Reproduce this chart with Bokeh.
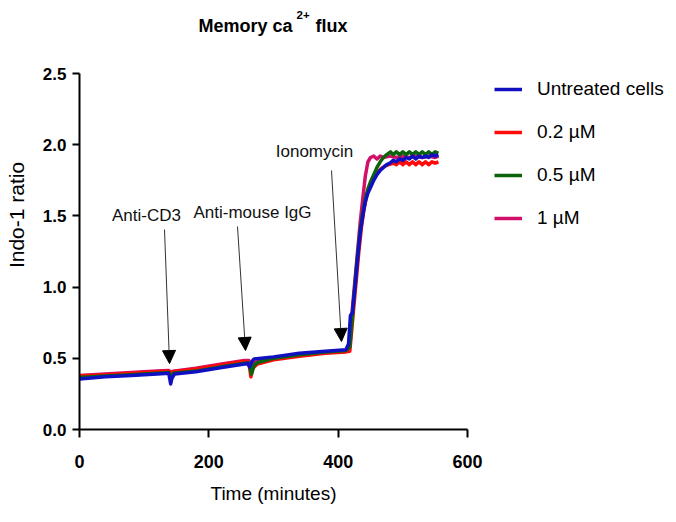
from bokeh.plotting import figure
from bokeh.models import (Range1d, FixedTicker, Label, Legend, LegendItem, Arrow,
                          NormalHead, Title)
from bokeh.embed import file_html
from bokeh.resources import INLINE

FONT = "Liberation Sans"

# ---------------- data ----------------
x_ticks = [0, 200, 400, 600]
y_ticks = [0.0, 0.5, 1.0, 1.5, 2.0, 2.5]
y_tick_labels = ["0.0", "0.5", "1.0", "1.5", "2.0", "2.5"]

series_names = ["Untreated cells", "0.2 \u00b5M", "0.5 \u00b5M", "1 \u00b5M"]
series_colors = ["#1010C0", "#FF0a0a", "#0B640B", "#D0106A"]

untreated_t = [0, 40, 80, 120, 138, 141, 143, 147, 180, 220, 255, 260, 263, 267,
               270, 300, 340, 380, 412, 416, 419, 422, 426, 430, 434, 438, 442,
               446, 450, 455, 460, 465, 470, 475, 480, 485, 490, 495, 500, 505,
               510, 515, 520, 525, 530, 535, 540, 545, 550, 555]
untreated_y = [0.355, 0.37, 0.38, 0.39, 0.395, 0.32, 0.36, 0.39, 0.405, 0.435,
               0.46, 0.465, 0.44, 0.48, 0.495, 0.51, 0.535, 0.55, 0.56, 0.60,
               0.80, 0.82, 1.00, 1.20, 1.38, 1.50, 1.60, 1.66, 1.70, 1.75, 1.79,
               1.82, 1.84, 1.86, 1.87, 1.89, 1.88, 1.90, 1.89, 1.91, 1.90, 1.92,
               1.90, 1.92, 1.91, 1.92, 1.91, 1.93, 1.92, 1.93]

low_t = [0, 40, 80, 120, 138, 141, 145, 180, 220, 255, 262, 265, 268, 275, 300,
         340, 380, 412, 418, 421, 424, 428, 432, 436, 440, 444, 448, 452, 456,
         460, 466, 472, 478, 485, 490, 495, 500, 505, 510, 515, 520, 525, 530,
         535, 540, 545, 550, 555]
low_y = [0.375, 0.385, 0.395, 0.405, 0.41, 0.39, 0.405, 0.425, 0.455, 0.48,
         0.47, 0.37, 0.43, 0.46, 0.49, 0.515, 0.535, 0.545, 0.55, 0.70, 0.85,
         1.05, 1.25, 1.42, 1.55, 1.64, 1.70, 1.75, 1.78, 1.80, 1.83, 1.85, 1.86,
         1.87, 1.86, 1.88, 1.86, 1.88, 1.86, 1.88, 1.86, 1.88, 1.86, 1.88, 1.86,
         1.88, 1.87, 1.88]

mid_t = [0, 40, 80, 120, 138, 141, 145, 180, 220, 255, 262, 266, 270, 275, 300,
         340, 380, 412, 418, 422, 426, 430, 434, 438, 442, 446, 450, 455, 460,
         465, 470, 475, 481, 485, 490, 495, 500, 505, 510, 515, 520, 525, 530,
         535, 540, 545, 550, 555]
mid_y = [0.365, 0.375, 0.385, 0.395, 0.40, 0.36, 0.395, 0.41, 0.44, 0.465,
         0.465, 0.39, 0.45, 0.47, 0.50, 0.525, 0.545, 0.555, 0.58, 0.80, 1.02,
         1.22, 1.40, 1.52, 1.62, 1.69, 1.74, 1.79, 1.84, 1.88, 1.91, 1.93, 1.95,
         1.93, 1.95, 1.93, 1.95, 1.93, 1.95, 1.93, 1.95, 1.93, 1.95, 1.93, 1.95,
         1.93, 1.95, 1.94]

high_t = [0, 40, 80, 120, 138, 141, 145, 180, 220, 255, 262, 266, 270, 300, 340,
          380, 412, 418, 422, 426, 430, 434, 438, 442, 446, 450, 455, 460, 465,
          470, 480, 490, 500, 510, 520, 530, 540, 550, 555]
high_y = [0.38, 0.39, 0.40, 0.41, 0.415, 0.40, 0.41, 0.43, 0.46, 0.485, 0.485,
          0.42, 0.47, 0.50, 0.525, 0.545, 0.555, 0.60, 0.85, 1.05, 1.25, 1.45,
          1.62, 1.78, 1.88, 1.91, 1.92, 1.90, 1.92, 1.91, 1.92, 1.91, 1.92,
          1.91, 1.92, 1.91, 1.92, 1.91, 1.92]

event_labels = ["Anti-CD3", "Anti-mouse IgG", "Ionomycin"]
event_times = [139.2, 256.7, 405.1]

# ---------------- layout ----------------
LEFT, AX_W, AX_H = 79, 388, 356        # axis box: x 0..600 over 388 px, y 0..2.5 over 356 px
TOP_SPACE = 73                          # room above the axis box for the title
RIGHT_SPACE = 676 - LEFT - AX_W         # room right of the axis box for the legend
BOTTOM = 89
ppx = AX_W / 600.0
ppy = AX_H / 2.5
FW = AX_W + RIGHT_SPACE
FH = AX_H + TOP_SPACE

p = figure(frame_width=FW, frame_height=FH, output_backend="svg",
           toolbar_location=None, title=None,
           x_range=Range1d(0, FW / ppx), y_range=Range1d(0, FH / ppy),
           min_border_left=LEFT, min_border_right=0, min_border_top=0,
           min_border_bottom=BOTTOM)
p.outline_line_color = None
p.xgrid.visible = False
p.ygrid.visible = False
p.background_fill_color = "white"
p.border_fill_color = "white"

for ax in (p.xaxis[0], p.yaxis[0]):
    ax.axis_line_width = 2
    ax.axis_line_color = "black"
    ax.major_tick_line_width = 2
    ax.major_tick_line_color = "black"
    ax.major_tick_in = 0
    ax.minor_tick_line_color = None
    ax.major_label_text_font = FONT
    ax.major_label_text_font_style = "bold"
    ax.major_label_text_color = "black"
    ax.axis_label_text_font = FONT
    ax.axis_label_text_font_style = "normal"
    ax.axis_label_text_color = "black"

p.xaxis.bounds = (0, 600)
p.xaxis.ticker = FixedTicker(ticks=x_ticks)
p.xaxis.major_tick_out = 8
p.xaxis.major_label_standoff = 17
p.xaxis.major_label_text_font_size = "18px"

p.yaxis.bounds = (0, 2.5)
p.yaxis.ticker = FixedTicker(ticks=y_ticks)
p.yaxis.major_label_overrides = {t: s for t, s in zip(y_ticks, y_tick_labels)}
p.yaxis.major_tick_out = 7
p.yaxis.major_label_standoff = 6
p.yaxis.major_label_text_font_size = "17px"
p.yaxis.axis_label = "Indo-1 ratio"
p.yaxis.axis_label_text_font_size = "21px"
p.yaxis.axis_label_standoff = 12

# x axis title, centred under the 0..600 axis (placed in the panel below the axis)
p.add_layout(Title(text="Time (minutes)", align="left", offset=131, standoff=20,
                   text_font=FONT, text_font_style="normal", text_font_size="19px",
                   text_color="black"), "below")

series = [(untreated_t, untreated_y), (low_t, low_y), (mid_t, mid_y), (high_t, high_y)]
renderers = [None] * 4
for idx in [3, 1, 2, 0]:
    t, y = series[idx]
    renderers[idx] = p.line(t, y, line_color=series_colors[idx], line_width=3.5,
                            line_join="round")

legend = Legend(items=[LegendItem(label=n, renderers=[r]) for n, r in zip(series_names, renderers)],
                location=(415, 200), padding=0, margin=0, spacing=21,
                glyph_width=28, glyph_height=20, label_height=20, label_standoff=15,
                label_text_font=FONT, label_text_font_size="19px",
                label_text_color="black",
                border_line_color=None, background_fill_alpha=0)
p.add_layout(legend)


def px_to_data(px, py):
    return (px - LEFT) / ppx, (TOP_SPACE + AX_H - py) / ppy


# title with superscript (page pixel anchors converted to data units)
for txt, (px, py), size in [("Memory ca", (198, 25), "18px"),
                            ("2+", (296, 14), "11.5px"),
                            ("flux", (315, 25), "18px")]:
    tx, ty = px_to_data(px, py)
    p.add_layout(Label(x=tx, y=ty, text=txt, text_font=FONT, text_font_style="bold",
                       text_font_size=size, text_baseline="alphabetic",
                       text_color="black"))

# event annotations
label_px = [(146, 215), (252, 212), (314, 151)]
arrow_start_px = [(164, 229), (237, 226), (331, 170)]
arrow_tip_y = [0.463, 0.555, 0.618]
for name, lp, sp, tx, ty in zip(event_labels, label_px, arrow_start_px,
                                 event_times, arrow_tip_y):
    lx, ly = px_to_data(*lp)
    sx, sy = px_to_data(*sp)
    p.add_layout(Label(x=lx, y=ly, text=name, text_font=FONT, text_font_size="17px",
                       text_align="center", text_baseline="alphabetic",
                       text_color="#111111"))
    p.add_layout(Arrow(x_start=sx, y_start=sy, x_end=tx, y_end=ty, line_width=1,
                       line_color="#333333",
                       end=NormalHead(size=13, fill_color="black", line_color="black")))

open("out.html", "w").write(file_html(p, INLINE))
